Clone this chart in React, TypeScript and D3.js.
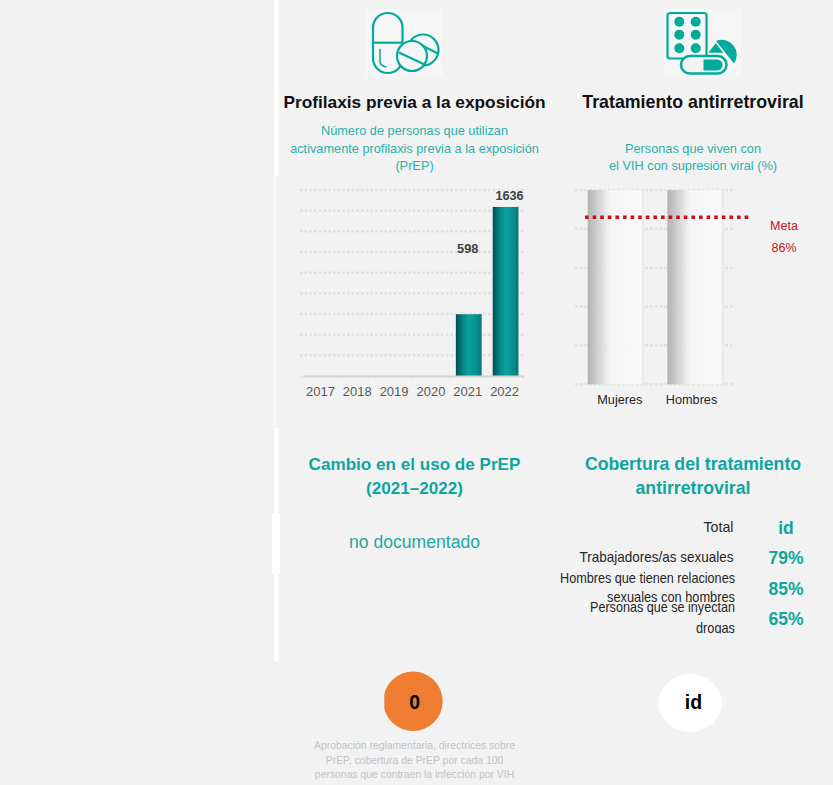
import { useEffect, useRef } from 'react'
import * as d3 from 'd3'

const WIDTH = 833
const HEIGHT = 785

const TEAL = '#0ea5a0'
const TEAL_TEXT = '#2ab0aa'
const ICON = '#00ab9b'
const RED = '#c8101e'

const prepYears = ['2017', '2018', '2019', '2020', '2021', '2022']
const prepValues = [null, null, null, null, 598, 1636]
const prepTicks = [0, 200, 400, 600, 800, 1000, 1200, 1400, 1600, 1800]

const artCategories = ['Mujeres', 'Hombres']
const artValues = [100, 100]
const artTicks = [0, 20, 40, 60, 80, 100]
const artTarget = 86

const coverageLabels = [
  ['Total'],
  ['Trabajadores/as sexuales'],
  ['Hombres que tienen relaciones', 'sexuales con hombres'],
  ['Personas que se inyectan', 'drogas'],
]
const coverageValues = ['id', '79%', '85%', '65%']

const footnoteLines = [
  'Aprobación reglamentaria, directrices sobre',
  'PrEP, cobertura de PrEP por cada 100',
  'personas que contraen la infección por VIH',
]

type Sel = d3.Selection<SVGSVGElement, unknown, null, undefined>

const addText = (svg: any, str: string, x: number, y: number, size: number, fill: string, opts: any = {}) =>
  svg.append('text')
    .attr('x', x)
    .attr('y', y)
    .attr('font-size', size)
    .attr('fill', fill)
    .attr('font-weight', opts.weight || 'normal')
    .attr('text-anchor', opts.anchor || 'middle')
    .text(str)

function drawIcons(svg: Sel) {
  const left = svg.append('g').attr('fill', 'none').attr('stroke', ICON).attr('stroke-width', 2.2)
  left.append('rect').attr('x', 366).attr('y', 9).attr('width', 77).attr('height', 67)
    .attr('fill', '#f6f6f6').attr('stroke', 'none')
  left.append('rect').attr('x', 373).attr('y', 13).attr('width', 29.5).attr('height', 60).attr('rx', 14.7)
  left.append('line').attr('x1', 373).attr('x2', 402.5).attr('y1', 42.7).attr('y2', 42.7)
  left.append('path').attr('d', 'M380,49 V61 Q380,66 386.5,67').attr('stroke-width', 1.5)
  left.append('circle').attr('cx', 423).attr('cy', 50).attr('r', 15.5).attr('fill', '#f6f6f6')
  left.append('line').attr('x1', 413).attr('y1', 41).attr('x2', 438).attr('y2', 53.5)
  left.append('circle').attr('cx', 412).attr('cy', 56).attr('r', 15).attr('fill', '#f6f6f6')
  left.append('line').attr('x1', 399).attr('y1', 52.5).attr('x2', 425.5).attr('y2', 65)

  const right = svg.append('g').attr('fill', 'none').attr('stroke', ICON).attr('stroke-width', 2.2)
  right.append('rect').attr('x', 664).attr('y', 9).attr('width', 77).attr('height', 68)
    .attr('fill', '#f6f6f6').attr('stroke', 'none')
  right.append('rect').attr('x', 667.5).attr('y', 13).attr('width', 39).attr('height', 45.5).attr('rx', 2.5)
  const dots = right.append('g').attr('fill', ICON).attr('stroke', 'none')
  ;[679.3, 695.7].forEach(cx => [21.7, 34.7, 48.3].forEach(cy => {
    dots.append('circle').attr('cx', cx).attr('cy', cy).attr('r', 5)
  }))
  right.append('path').attr('d', 'M708.3,52.7 L715.7,43.3 L723.3,52.7 Z').attr('fill', ICON).attr('stroke', 'none')
  right.append('path').attr('d', 'M716,41 A15,15 0 0 1 734,63.5 Z').attr('fill', ICON).attr('stroke', 'none')
  right.append('rect').attr('x', 681).attr('y', 56).attr('width', 45.5).attr('height', 17.5).attr('rx', 8.7)
    .attr('fill', '#f2f2f2').attr('stroke-width', 2.5)
  right.append('path').attr('d', 'M703.5,59.5 H717 A5.5,5.5 0 0 1 717,70.5 H703.5 Z').attr('fill', ICON).attr('stroke', 'none')
}

function drawPrepChart(svg: Sel) {
  const x = d3.scaleBand().domain(prepYears).range([303, 524]).paddingInner(0.3).paddingOuter(0.15)
  const y = d3.scaleLinear().domain([0, 1800]).range([376, 190])

  const grid = svg.append('g')
  grid.selectAll('line')
    .data(prepTicks.slice(1))
    .join('line')
    .attr('x1', 300)
    .attr('x2', 525)
    .attr('y1', d => y(d))
    .attr('y2', d => y(d))
    .attr('stroke', '#e0e0e0')
    .attr('stroke-width', 2.5)
    .attr('stroke-dasharray', '2.5 2.2')

  const points = prepYears.map((year, i) => ({ year, value: prepValues[i] })).filter(d => d.value !== null)

  svg.append('g')
    .selectAll('rect')
    .data(points)
    .join('rect')
    .attr('x', d => x(d.year)!)
    .attr('y', d => y(d.value!))
    .attr('width', x.bandwidth())
    .attr('height', d => y(0) - y(d.value!))
    .attr('fill', 'url(#tealBar)')

  const axis = svg.append('g')
    .attr('transform', `translate(0,${y(0)})`)
    .call(d3.axisBottom(x).tickSizeOuter(0).tickSize(0).tickPadding(11))
  axis.select('.domain').attr('stroke', '#d4d4d4').attr('stroke-width', 2)
  axis.selectAll('text')
    .attr('dx', -1)
    .attr('font-size', 13)
    .attr('font-family', 'inherit')
    .attr('fill', '#595959')

  // little marks on the baseline, between the bands
  svg.append('g')
    .selectAll('line')
    .data(prepYears.concat('end'))
    .join('line')
    .attr('x1', (_, i) => 302 + i * x.step())
    .attr('x2', (_, i) => 302 + i * x.step())
    .attr('y1', y(0))
    .attr('y2', y(0) + 3)
    .attr('stroke', '#d8d8d8')
    .attr('stroke-width', 1)

  // labels sit at fixed heights in the original
  addText(svg, '598', x('2021')! + x.bandwidth() / 2 - 1, 253.3, 12.8, '#404040', { weight: 'bold' })
  addText(svg, '1636', x('2022')! + x.bandwidth() / 2 + 4, 200, 12.7, '#404040', { weight: 'bold' })
}

function drawArtChart(svg: Sel) {
  const x = d3.scaleBand().domain(artCategories).range([587.7, 723.7]).paddingInner(0.293).paddingOuter(0)
  const y = d3.scaleLinear().domain([0, 100]).range([384.3, 190])

  svg.append('g')
    .selectAll('line')
    .data(artTicks)
    .join('line')
    .attr('x1', 575)
    .attr('x2', 734)
    .attr('y1', d => y(d))
    .attr('y2', d => y(d))
    .attr('stroke', '#e0e0e0')
    .attr('stroke-width', 2.5)
    .attr('stroke-dasharray', '2.5 2.2')

  svg.append('g')
    .selectAll('rect')
    .data(artValues)
    .join('rect')
    .attr('x', (_, i) => x(artCategories[i])!)
    .attr('y', d => y(d))
    .attr('width', x.bandwidth())
    .attr('height', d => y(0) - y(d))
    .attr('fill', 'url(#greyBar)')
    .attr('fill-opacity', 0.93)

  svg.append('g')
    .selectAll('line')
    .data(artCategories)
    .join('line')
    .attr('x1', d => x(d)! + x.bandwidth() / 2)
    .attr('x2', d => x(d)! + x.bandwidth() / 2 + 4)
    .attr('y1', 358.5)
    .attr('y2', 358.5)
    .attr('stroke', '#ffffff')
    .attr('stroke-width', 1)

  svg.append('line')
    .attr('x1', 585)
    .attr('x2', 749)
    .attr('y1', y(artTarget))
    .attr('y2', y(artTarget))
    .attr('stroke', RED)
    .attr('stroke-width', 3.5)
    .attr('stroke-dasharray', '3.6 4')

  // the category labels lean toward each other in the original
  const labelShift = [4, -4]
  artCategories.forEach((c, i) => {
    addText(svg, c, x(c)! + x.bandwidth() / 2 + labelShift[i], 404, 12.7, '#262626')
  })
  addText(svg, 'Meta', 784, 230, 12.5, RED)
  addText(svg, `${artTarget}%`, 784, 252, 12.5, RED)
}

function drawTable(svg: Sel) {
  const clip = svg.append('g').attr('clip-path', 'url(#tableClip)')
  const targets = [
    [30],
    [154],
    [175, 128],
    [145, 39],
  ]
  const lineY = [[531.7], [561.7], [582.7], [612.3]]
  const secondY = [0, 0, 601.7, 633]
  coverageLabels.forEach((lines, i) => {
    lines.forEach((line, j) => {
      addText(clip, line, i < 2 ? 733.5 : 735, j === 0 ? lineY[i][0] : secondY[i], 14.5, '#262626', { anchor: 'end' })
        .attr('textLength', targets[i][j])
        .attr('lengthAdjust', 'spacingAndGlyphs')
    })
  })
  coverageValues.forEach((v, i) => {
    addText(svg, v, 786, 534 + i * 30.3, 17.5, TEAL, { weight: 'bold' })
  })
}

export default function App() {
  const svgRef = useRef<SVGSVGElement>(null)

  useEffect(() => {
    if (!svgRef.current) return
    const svg = d3.select(svgRef.current) as unknown as Sel
    svg.selectAll('*').remove()

    const defs = svg.append('defs')
    const teal = defs.append('linearGradient').attr('id', 'tealBar')
    teal.append('stop').attr('offset', '0%').attr('stop-color', '#044f50')
    teal.append('stop').attr('offset', '30%').attr('stop-color', '#058a88')
    teal.append('stop').attr('offset', '52%').attr('stop-color', '#0aa29e')
    teal.append('stop').attr('offset', '80%').attr('stop-color', '#078f8c')
    teal.append('stop').attr('offset', '100%').attr('stop-color', '#0b7573')
    const grey = defs.append('linearGradient').attr('id', 'greyBar')
    grey.append('stop').attr('offset', '0%').attr('stop-color', '#adadad')
    grey.append('stop').attr('offset', '40%').attr('stop-color', '#f6f6f6')
    grey.append('stop').attr('offset', '94%').attr('stop-color', '#fafafa')
    grey.append('stop').attr('offset', '100%').attr('stop-color', '#e2e2e2')
    defs.append('clipPath').attr('id', 'tableClip')
      .append('rect').attr('x', 550).attr('y', 515).attr('width', 200).attr('height', 118.5)
    defs.append('clipPath').attr('id', 'badgeClip')
      .append('rect').attr('x', 384.3).attr('y', 660).attr('width', 70).attr('height', 80)

    svg.append('rect').attr('width', WIDTH).attr('height', HEIGHT).attr('fill', '#f2f2f2')

    // white rules down the left of the panel
    const rules = [
      [274, 0, 4.5, 176, 1],
      [274, 176, 1.5, 252, 0.6],
      [274, 428, 4.5, 85, 1],
      [272, 513, 8, 60, 1],
      [274, 573, 4.5, 88, 1],
    ]
    svg.append('g')
      .selectAll('rect')
      .data(rules)
      .join('rect')
      .attr('x', d => d[0])
      .attr('y', d => d[1])
      .attr('width', d => d[2])
      .attr('height', d => d[3])
      .attr('fill', '#ffffff')
      .attr('fill-opacity', d => d[4])

    drawIcons(svg)

    addText(svg, 'Profilaxis previa a la exposición', 414.5, 108, 17.3, '#111111', { weight: 'bold' })
    addText(svg, 'Tratamiento antirretroviral', 693, 108, 17.8, '#111111', { weight: 'bold' })

    addText(svg, 'Número de personas que utilizan', 414.5, 135, 12.75, TEAL_TEXT)
    addText(svg, 'activamente profilaxis previa a la exposición', 414.5, 153, 12.75, TEAL_TEXT)
    addText(svg, '(PrEP)', 414.5, 170, 12.75, TEAL_TEXT)
    addText(svg, 'Personas que viven con', 693, 153, 12.75, TEAL_TEXT)
    addText(svg, 'el VIH con supresión viral (%)', 693, 170, 12.75, TEAL_TEXT)

    drawPrepChart(svg)
    drawArtChart(svg)

    addText(svg, 'Cambio en el uso de PrEP', 414.5, 470, 17.1, TEAL, { weight: 'bold' })
    addText(svg, '(2021–2022)', 414.5, 494, 17.1, TEAL, { weight: 'bold' })
    addText(svg, 'Cobertura del tratamiento', 693, 470, 17.7, TEAL, { weight: 'bold' })
    addText(svg, 'antirretroviral', 693, 494, 17.7, TEAL, { weight: 'bold' })
    addText(svg, 'no documentado', 414.5, 548, 17.6, '#27a6a0')

    drawTable(svg)

    svg.append('circle').attr('cx', 413).attr('cy', 701.3).attr('r', 29.7)
      .attr('fill', '#ef7d31').attr('clip-path', 'url(#badgeClip)')
    svg.append('ellipse').attr('cx', 690.2).attr('cy', 703).attr('rx', 31.8).attr('ry', 29).attr('fill', '#ffffff')
    addText(svg, '0', 414.7, 709.3, 19.5, '#000000', { weight: 'bold' })
    addText(svg, 'id', 693.5, 709.3, 19.5, '#000000', { weight: 'bold' })

    footnoteLines.forEach((line, i) => {
      addText(svg, line, 414.5, 749 + i * 14.7, 10.4, '#c2c2c2')
    })
  }, [])

  return (
    <svg
      ref={svgRef}
      width={WIDTH}
      height={HEIGHT}
      viewBox={`0 0 ${WIDTH} ${HEIGHT}`}
      style={{ position: 'absolute', left: 0, top: 0, display: 'block', fontFamily: '"Liberation Sans", Arial, sans-serif' }}
    />
  )
}
